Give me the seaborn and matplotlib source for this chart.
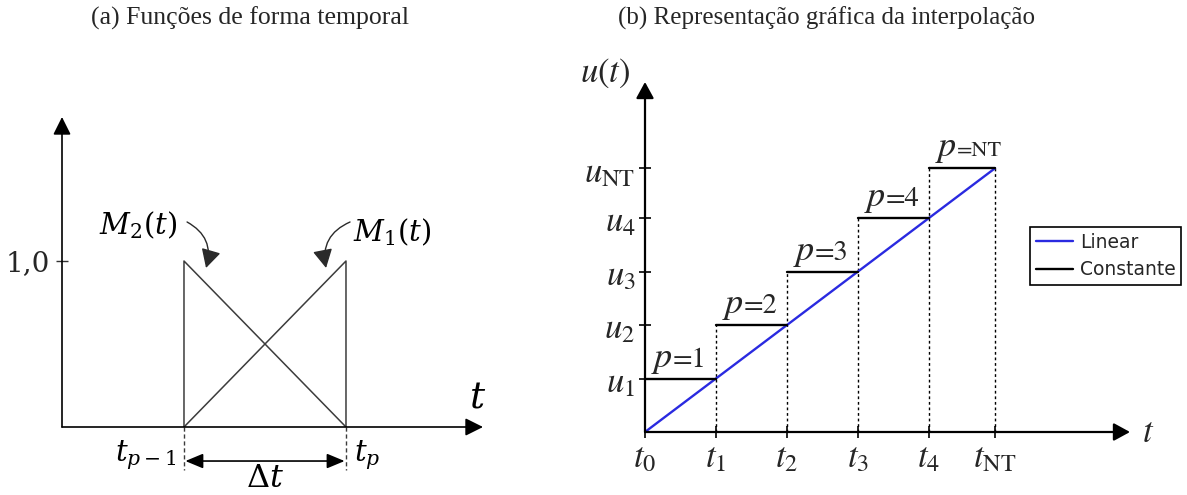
import matplotlib
matplotlib.use("Agg")
import matplotlib.pyplot as plt
import seaborn as sns
import pandas as pd

# (a) temporal shape functions over one time step
step_nodes = [1.0, 2.0]            # t_{p-1}, t_p
m1_values = [0.0, 1.0]             # M1 at t_{p-1}, t_p
m2_values = [1.0, 0.0]             # M2 at t_{p-1}, t_p
unit_tick = [1.0]
unit_tick_labels = ["1,0"]

# (b) linear vs. piecewise-constant interpolation of u(t)
t_nodes = [0.0, 1.0, 2.0, 3.0, 4.0, 4.93]
u_nodes = [0.0, 1.0, 2.0, 3.0, 4.0, 4.93]
t_labels = [r"$t_0$", r"$t_1$", r"$t_2$", r"$t_3$", r"$t_4$", r"$t_{\rm NT}$"]
u_labels = [r"$u_1$", r"$u_2$", r"$u_3$", r"$u_4$", r"$u_{\rm NT}$"]
step_names = ["=1", "=2", "=3", "=4", "=NT"]
series_names = ["Linear", "Constante"]
series_colors = {"Linear": "#2a2ae0", "Constante": "black"}

sns.set_theme(style="white")
plt.rcParams["font.family"] = ["DejaVu Sans"]
plt.rcParams["mathtext.fontset"] = "stix"

W, H = 1187, 495
fig = plt.figure(figsize=(W / 100, H / 100), dpi=100)


def px_axes(x0, y0, x1, y1):
    return fig.add_axes([x0 / W, 1 - y1 / H, (x1 - x0) / W, (y1 - y0) / H])


def axis_arrows(ax, lw, style, ms):
    for end in [(1, 0), (0, 1)]:
        ax.annotate("", xy=end, xytext=(0, 0), xycoords="axes fraction",
                    textcoords="axes fraction", annotation_clip=False,
                    arrowprops=dict(arrowstyle=style, color="black", lw=lw,
                                    shrinkA=0, shrinkB=0, mutation_scale=ms))


# ---------------- (a) ----------------
axA = px_axes(62, 117, 483, 427)
axA.set_xlim(0.247, 0.247 + 421 / 162)
axA.set_ylim(0, 310 / 166)
for s in axA.spines.values():
    s.set_visible(False)
axis_arrows(axA, 1.2, "-|>,head_length=0.6,head_width=0.3", 18)

t0, t1 = step_nodes
shape_df = pd.DataFrame({
    "t": [t0, t0, t1, t0, t1, t1],
    "M": [0.0, m2_values[0], m2_values[1], m1_values[0], m1_values[1], 0.0],
    "func": ["M2"] * 3 + ["M1"] * 3,
})
sns.lineplot(data=shape_df, x="t", y="M", units="func", estimator=None,
             sort=False, color="#3c3c3c", lw=1.1, ax=axA, legend=False)

axA.set_xticks([])
axA.set_yticks(unit_tick, unit_tick_labels)
axA.tick_params(axis="y", left=True, direction="inout", length=9, width=1,
                color="#333333", pad=4, labelsize=20)
for lbl in axA.get_yticklabels():
    lbl.set_fontfamily("DejaVu Serif")
axA.set_xlabel("")
axA.set_ylabel("")

# node extensions and time-step span
axA.vlines(step_nodes, 0, -0.26, colors="#3c3c3c", linestyles=(0, (3, 2)),
           lw=1, clip_on=False)
axA.annotate("", xy=(t1, -0.205), xytext=(t0, -0.205), annotation_clip=False,
             arrowprops=dict(arrowstyle="<|-|>,head_length=0.6,head_width=0.25",
                             mutation_scale=18, lw=1.2, color="black",
                             shrinkA=1, shrinkB=1))

mA = dict(math_fontfamily="dejavuserif", color="black")
axA.annotate(r"$t_{p-1}$", xy=(t0, -0.17), xytext=(-5, 0), textcoords="offset points",
             ha="right", va="center", fontsize=21, annotation_clip=False, **mA)
axA.annotate(r"$t_p$", xy=(t1, -0.17), xytext=(6, 0), textcoords="offset points",
             ha="left", va="center", fontsize=21, annotation_clip=False, **mA)
axA.text((t0 + t1) / 2, -0.31, r"$\Delta t$", ha="center", va="center",
         fontsize=23, **mA)
axA.text(0.986, 0.094, r"$t$", transform=axA.transAxes, ha="center",
         va="center", fontsize=27, **mA)

axA.text(0.716, 1.217, r"$M_2(t)$", ha="center", va="center", fontsize=21, **mA)
axA.text(2.284, 1.175, r"$M_1(t)$", ha="center", va="center", fontsize=21, **mA)
curve_style = "-|>,head_length=0.6,head_width=0.32"
axA.annotate("", xy=(1.136, 0.958), xytext=(1.019, 1.235),
             arrowprops=dict(arrowstyle=curve_style, mutation_scale=19,
                             connectionstyle="arc3,rad=-0.4", lw=1,
                             color="#2a2a2a", shrinkA=0, shrinkB=0))
axA.annotate("", xy=(1.877, 0.958), xytext=(2.025, 1.235),
             arrowprops=dict(arrowstyle=curve_style, mutation_scale=19,
                             connectionstyle="arc3,rad=0.4", lw=1,
                             color="#2a2a2a", shrinkA=0, shrinkB=0))

fig.text(250 / W, 1 - 18 / H, "(a) Funções de forma temporal", ha="center",
         va="center", fontsize=18.5, family="Liberation Serif")

# ---------------- (b) ----------------
axB = px_axes(645, 82, 1130, 432)
axB.set_xlim(0, 485 / 71)
axB.set_ylim(0, 350 / 53.5)
for s in axB.spines.values():
    s.set_visible(False)
axis_arrows(axB, 1.6, "-|>,head_length=0.55,head_width=0.3", 18)

rows = []
for t, u in zip(t_nodes, u_nodes):
    rows.append(dict(t=t, u=u, kind="Linear", seg=0))
for i in range(1, len(t_nodes)):
    rows.append(dict(t=t_nodes[i - 1], u=u_nodes[i], kind="Constante", seg=i))
    rows.append(dict(t=t_nodes[i], u=u_nodes[i], kind="Constante", seg=i))
interp_df = pd.DataFrame(rows)

# dotted guides from each node up to the next constant level
tops = u_nodes[2:] + [u_nodes[-1]]
axB.vlines(t_nodes[1:], 0, tops, colors="black", linestyles=(0, (2, 2)), lw=1)

sns.lineplot(data=interp_df, x="t", y="u", hue="kind", hue_order=series_names,
             units="seg", estimator=None, sort=False, palette=series_colors,
             lw=1.7, ax=axB)

axB.set_xticks(t_nodes, t_labels)
axB.set_yticks(u_nodes[1:], u_labels)
axB.tick_params(axis="both", left=True, bottom=True, direction="inout",
                length=8, width=1.2, color="black", labelsize=25)
axB.tick_params(axis="x", pad=2)
axB.tick_params(axis="y", pad=3)
axB.set_xlabel("")
axB.set_ylabel("")

axB.text(-0.082, 1.026, r"$u(t)$", transform=axB.transAxes, ha="center",
         va="center", fontsize=25)
axB.text(1.037, 0.0, r"$t$", transform=axB.transAxes, ha="center",
         va="center", fontsize=25)

for i, name in enumerate(step_names, start=1):
    ptxt = axB.annotate(r"$p$", xy=(t_nodes[i - 1], u_nodes[i]), xytext=(4, 8.5),
                        textcoords="offset points", ha="left", va="baseline",
                        fontsize=26)
    axB.annotate(name, xy=(1.0, u_nodes[i]), xycoords=(ptxt, "data"),
                 xytext=(0.5, 8.5), textcoords="offset points", ha="left",
                 va="baseline", fontsize=16 if name == "=NT" else 20.5,
                 family="STIXGeneral")

handles, labels = axB.get_legend_handles_labels()
leg = axB.legend(handles, labels, loc="upper left",
                 bbox_to_anchor=(1030 / W, 1 - 227 / H),
                 bbox_transform=fig.transFigure, frameon=True, fancybox=False,
                 edgecolor="black", framealpha=1, borderaxespad=0,
                 fontsize=13.5, handlelength=2, handletextpad=0.35,
                 labelspacing=0.45, borderpad=0.3)
leg.get_frame().set_linewidth(1.2)

fig.text(826 / W, 1 - 18 / H, "(b) Representação gráfica da interpolação",
         ha="center", va="center", fontsize=18, family="Liberation Serif")

fig.savefig("out.png", dpi=100)
